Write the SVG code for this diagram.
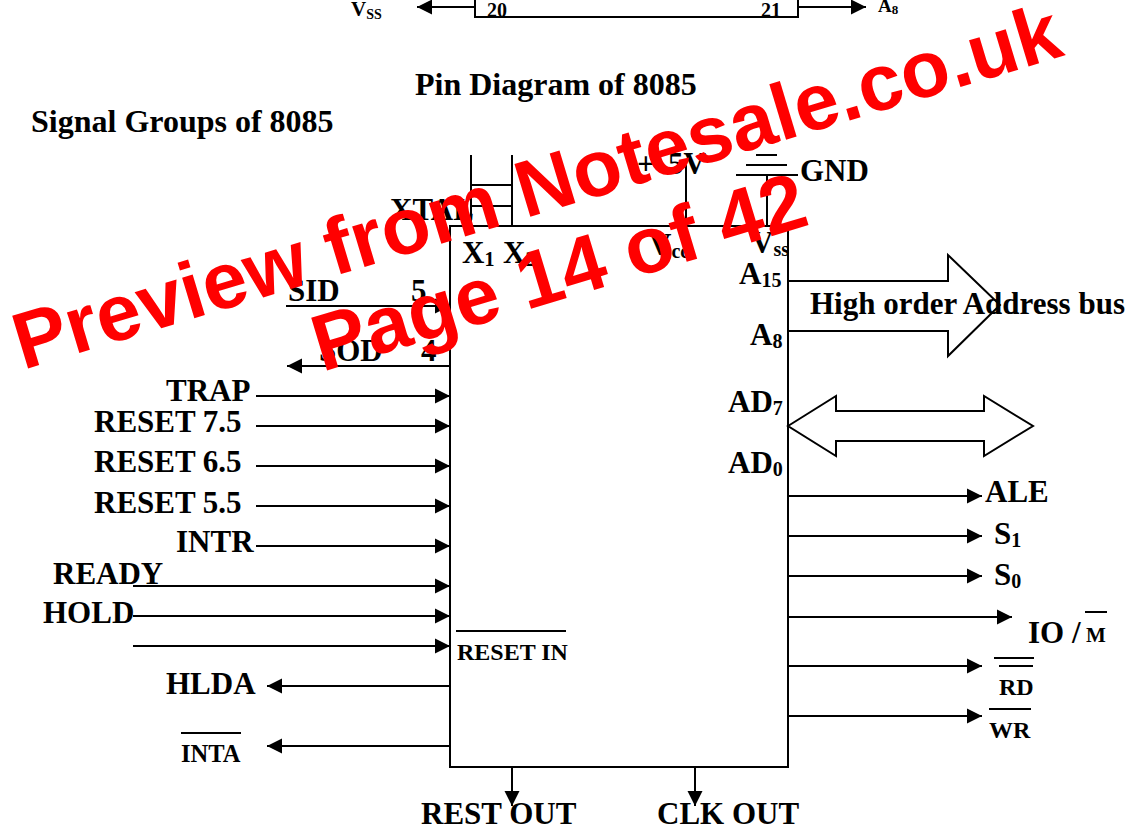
<svg xmlns="http://www.w3.org/2000/svg" width="1130" height="829" viewBox="0 0 1130 829">
<defs>
<marker id="ah" markerUnits="userSpaceOnUse" markerWidth="16" markerHeight="16" refX="15" refY="8" orient="auto"><path d="M0 0.5L15 8L0 15.5z" fill="#000"/></marker>
</defs>
<style>
text{font-family:"Liberation Serif","Times New Roman",serif;font-weight:bold;fill:#000}
.t{font-size:32px}
.l{font-size:31px}
.m{font-size:24px}
.b{font-size:20px}
.ln{stroke:#000;stroke-width:2;fill:none}
.ar{stroke:#000;stroke-width:2;fill:none;marker-end:url(#ah)}
.wm{font-family:"Liberation Sans",Arial,sans-serif;font-weight:bold;fill:#f00}
</style>
<rect width="1130" height="829" fill="#fff"/>
<g id="connectors">
<path class="ln" d="M475 0V17H798V0"/>
<path class="ar" d="M475 7H417"/>
<path class="ar" d="M798 7H866"/>
<path class="ln" d="M471 155V226M512 155V226M471 185H512M471 206H512"/>
<path class="ln" d="M686 165V226M767 176V226"/>
<path class="ln" d="M736 175H798M746 165H787M756 155H777"/>
<path class="ar" d="M286 306H450"/>
<path class="ar" d="M450 366H287"/>
<path class="ar" d="M256 396H450"/>
<path class="ar" d="M256 426H450"/>
<path class="ar" d="M256 466H450"/>
<path class="ar" d="M256 506H450"/>
<path class="ar" d="M256 546H450"/>
<path class="ar" d="M133 586H450"/>
<path class="ar" d="M133 616H450"/>
<path class="ar" d="M133 646H450"/>
<path class="ar" d="M450 686H267"/>
<path class="ar" d="M450 746H267"/>
<path class="ar" d="M512 767V806"/>
<path class="ar" d="M695 767V806"/>
<path class="ln" d="M788 281H948V255L1000 305L948 356V331H788"/>
<path class="ln" d="M788 426L836 396V411H984V396L1033 426L984 456V441H836V456Z"/>
<path class="ar" d="M788 496H982"/>
<path class="ar" d="M788 536H982"/>
<path class="ar" d="M788 576H982"/>
<path class="ar" d="M788 617H1012"/>
<path class="ar" d="M788 666H982"/>
<path class="ar" d="M788 716H982"/>
<path class="ln" d="M181 733H241M456 631H566M994 658H1034M999 666H1033M989 709H1031M1085 612H1107"/>
</g>
<g id="chip"><rect x="450" y="226" width="338" height="541" fill="none" stroke="#000" stroke-width="2"/></g>
<g id="labels">
<text x="351" y="16" font-size="21">V<tspan font-size="14" dy="3">SS</tspan></text>
<text x="487" y="17" class="b">20</text>
<text x="761" y="17" class="b">21</text>
<text x="878" y="12" font-size="19">A<tspan font-size="13" dy="2">8</tspan></text>
<text x="415" y="95" class="t">Pin Diagram of 8085</text>
<text x="31" y="132" class="t">Signal Groups of 8085</text>
<text x="390" y="220" class="l">XTAL</text>
<text x="462" y="263" class="l">X<tspan font-size="20" dy="3">1</tspan></text>
<text x="503" y="263" class="l">X<tspan font-size="20" dy="3">2</tspan></text>
<text x="637" y="174" class="l">+<tspan x="668">5V</tspan></text>
<text x="800" y="181" class="l">GND</text>
<text x="649" y="255" class="l">V<tspan font-size="20" dy="3">cc</tspan></text>
<text x="751" y="253" class="l">V<tspan font-size="20" dy="3">ss</tspan></text>
<text x="739" y="284" class="l">A<tspan font-size="20" dy="3">15</tspan></text>
<text x="750" y="345" class="l">A<tspan font-size="20" dy="3">8</tspan></text>
<text x="810" y="314" class="l">High order Address bus</text>
<text x="728" y="412" class="l">AD<tspan font-size="20" dy="3">7</tspan></text>
<text x="728" y="473" class="l">AD<tspan font-size="20" dy="3">0</tspan></text>
<text x="985" y="502" class="l">ALE</text>
<text x="994" y="544" class="l">S<tspan font-size="20" dy="3">1</tspan></text>
<text x="994" y="585" class="l">S<tspan font-size="20" dy="3">0</tspan></text>
<text x="1028" y="643" class="l">IO /</text>
<text x="1086" y="642" font-size="21">M</text>
<text x="999" y="695" class="m">RD</text>
<text x="989" y="738" class="m">WR</text>
<text x="288" y="301" class="l">SID</text>
<text x="411" y="301" class="l">5</text>
<text x="319" y="361" class="l">SOD</text>
<text x="421" y="361" class="l">4</text>
<text x="166" y="401" class="l">TRAP</text>
<text x="94" y="432" class="l">RESET 7.5</text>
<text x="94" y="472" class="l">RESET 6.5</text>
<text x="94" y="513" class="l">RESET 5.5</text>
<text x="176" y="552" class="l">INTR</text>
<text x="53" y="584" class="l">READY</text>
<text x="43" y="623" class="l">HOLD</text>
<text x="457" y="660" class="m">RESET IN</text>
<text x="166" y="694" class="l">HLDA</text>
<text x="181" y="762" font-size="24.5">INTA</text>
<text x="421" y="824" class="l">REST OUT</text>
<text x="657" y="824" class="l">CLK OUT</text>
</g>
<g id="watermark">
<text class="wm" font-size="80" transform="translate(23 370) rotate(-16.8)">Preview from Notesale.co.uk</text>
<text class="wm" font-size="80" transform="translate(322 372) rotate(-16.8)">Page 14 of 42</text>
</g>
</svg>
